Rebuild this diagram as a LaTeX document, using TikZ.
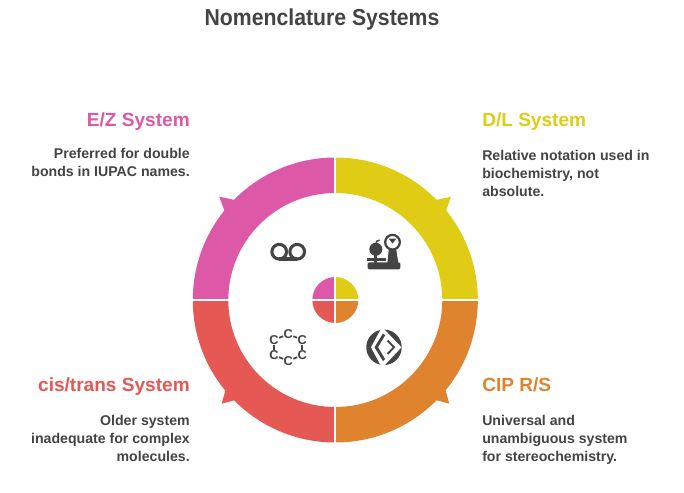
\documentclass[tikz,border=0pt]{standalone}
\usepackage{fontspec}
\setmainfont{Liberation Sans}
\newfontfamily\ttlfont[FakeStretch=0.92]{Liberation Sans}
\definecolor{ink}{HTML}{444444}
\definecolor{cy}{HTML}{E0CC15}
\definecolor{co}{HTML}{E0832F}
\definecolor{cr}{HTML}{E65853}
\definecolor{cp}{HTML}{DE58A8}
\tikzset{
 ttl/.style={font=\ttlfont\fontsize{17.3pt}{22pt}\bfseries,text=ink,inner sep=0pt},
 headl/.style={font=\fontsize{14.3pt}{16pt}\bfseries,inner sep=0pt,anchor=base east},
 headr/.style={font=\fontsize{14.3pt}{16pt}\bfseries,inner sep=0pt,anchor=base west},
 bodyl/.style={font=\fontsize{10.6pt}{13.7pt}\bfseries,text=ink,inner sep=0pt,align=right,anchor=north east},
 bodyr/.style={font=\fontsize{10.6pt}{13.7pt}\bfseries,text=ink,inner sep=0pt,align=left,anchor=north west},
 cee/.style={font=\fontsize{9.6pt}{9.6pt}\bfseries,text=ink,inner sep=0pt},
 bond/.style={draw=ink,line width=1.3pt,shorten >=0.2pt,shorten <=0.2pt},
}
\begin{document}
\begin{tikzpicture}[x=0.75pt,y=-0.75pt]
\useasboundingbox (0,0) rectangle (684,492);
\fill[white] (0,0) rectangle (684,492);
\def\cx{335.3}\def\cy{300}\def\ro{142.5}\def\ri{107}\def\rc{23}
% ring segments
\fill[cy] (\cx,\cy-\ro) arc[start angle=90,end angle=0,radius=\ro*0.75pt] -- (\cx+\ri,\cy) arc[start angle=0,end angle=90,radius=\ri*0.75pt] -- cycle;
\fill[cy] (436,200) -- (451,196.7) -- (445.7,212) -- cycle;
\fill[co] (\cx+\ro,\cy) arc[start angle=0,end angle=-90,radius=\ro*0.75pt] -- (\cx,\cy+\ri) arc[start angle=-90,end angle=0,radius=\ri*0.75pt] -- cycle;
\fill[co] (445.5,390) -- (449.3,403.7) -- (435.7,400) -- cycle;
\fill[cr] (\cx,\cy+\ro) arc[start angle=270,end angle=180,radius=\ro*0.75pt] -- (\cx-\ri,\cy) arc[start angle=180,end angle=270,radius=\ri*0.75pt] -- cycle;
\fill[cr] (225.5,390) -- (221.7,403.7) -- (235.3,400) -- cycle;
\fill[cp] (\cx-\ro,\cy) arc[start angle=180,end angle=90,radius=\ro*0.75pt] -- (\cx,\cy-\ri) arc[start angle=90,end angle=180,radius=\ri*0.75pt] -- cycle;
\fill[cp] (235,200) -- (219.3,196.7) -- (225,212) -- cycle;
% centre
\fill[cy] (\cx,\cy) -- (\cx,\cy-\rc) arc[start angle=90,end angle=0,radius=\rc*0.75pt] -- cycle;
\fill[co] (\cx,\cy) -- (\cx+\rc,\cy) arc[start angle=0,end angle=-90,radius=\rc*0.75pt] -- cycle;
\fill[cr] (\cx,\cy) -- (\cx,\cy+\rc) arc[start angle=270,end angle=180,radius=\rc*0.75pt] -- cycle;
\fill[cp] (\cx,\cy) -- (\cx-\rc,\cy) arc[start angle=180,end angle=90,radius=\rc*0.75pt] -- cycle;
% separators
\draw[white,line width=1.5pt] (\cx,150) -- (\cx,450);
\draw[white,line width=1.5pt] (185,\cy) -- (485,\cy);
% voicemail icon
\draw[ink,line width=2.3pt] (279.2,251.7) circle[radius=5.5pt];
\draw[ink,line width=2.3pt] (297.2,251.7) circle[radius=5.5pt];
\draw[ink,line width=2.3pt] (279.2,259) -- (297.2,259);
% scale icon
\fill[ink] (375.8,249.3) circle[radius=4.9pt];
\draw[ink,line width=1.1pt] (375.8,244) .. controls (376,241.5) and (377,240.5) .. (379.5,240);
\fill[ink] (374.3,254) rectangle (377.3,263);
\draw[ink,line width=1.9pt] (367.3,259.3) -- (386,259.3);
\fill[ink,rounded corners=1pt] (367.7,262.3) rectangle (400.3,269.3);
\fill[ink] (389,248) -- (396,248) -- (398.3,263) -- (387.3,263) -- cycle;
\draw[ink,fill=white,line width=1.7pt] (392.5,242.2) circle[radius=5.5pt];
\fill[ink] (392.5,243.5) -- (388.5,238.5) -- (396.5,238.5) -- cycle;
% carbon ring
\node[cee] (c1) at (288.3,334) {C};
\node[cee] (c2) at (302.3,340) {C};
\node[cee] (c3) at (302.3,355) {C};
\node[cee] (c4) at (288.3,361) {C};
\node[cee] (c5) at (274,355) {C};
\node[cee] (c6) at (274,340) {C};
\foreach \a/\b in {c1/c2,c2/c3,c3/c4,c4/c5,c5/c6,c6/c1}{\draw[bond] (\a) -- (\b);}
% diamond emblem
\fill[ink] (384,347.3) circle[radius=13.3pt];
\fill[white] (382,327) -- (401.5,347.3) -- (382,368) -- (371,347.3) -- cycle;
\fill[ink] (383,333.5) -- (374.5,347.3) -- (383,361) -- (385,359) -- (378,347.3) -- (385,335.5) -- cycle;
\draw[ink,line width=1.4pt] (387.5,340.5) -- (394,347.3) -- (387.5,354);
% texts
\node[ttl] (title) at (322,20) {Nomenclature Systems};
\node[headr,text=cy] (dl) at (482,126) {D/L System};
\node[bodyr] (dlb) at (482,149.5) {Relative notation used in\\biochemistry, not\\absolute.};
\node[headl,text=cp] (ez) at (190,126) {E/Z System};
\node[bodyl] (ezb) at (190,147.5) {Preferred for double\\bonds in IUPAC names.};
\node[headl,text=cr] (ct) at (190,391) {cis/trans System};
\node[bodyl] (ctb) at (190,414.5) {Older system\\inadequate for complex\\molecules.};
\node[headr,text=co] (cip) at (482,391) {CIP R/S};
\node[bodyr] (cipb) at (482,414.5) {Universal and\\unambiguous system\\for stereochemistry.};
\end{tikzpicture}
\end{document}
